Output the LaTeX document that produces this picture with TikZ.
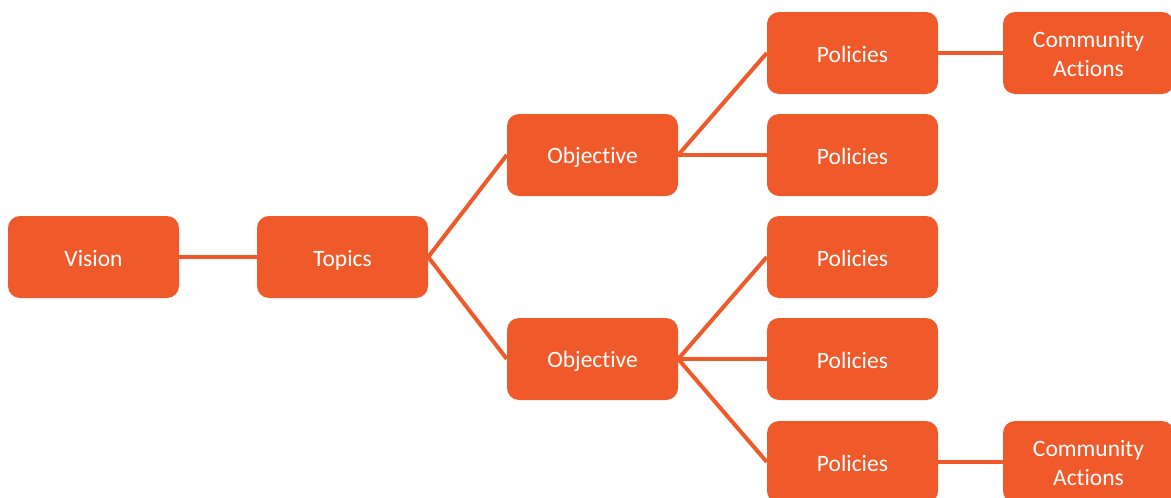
\documentclass[tikz,border=0pt]{standalone}
\usepackage{fontspec}
\setmainfont[Ligatures={NoCommon,NoContextual}]{Carlito}
\definecolor{boxorange}{HTML}{F0592A}
\newcommand{\bxstrut}{\rule[-4pt]{0pt}{26pt}}
\begin{document}
\begin{tikzpicture}[x=1pt,y=-1pt,
  box/.style={fill=boxorange, draw=none, rounded corners=12pt, minimum width=171pt, minimum height=82pt, text=white, font=\fontsize{23.5}{28.5}\selectfont, align=center, inner sep=0pt},
  link/.style={draw=boxorange, line width=4pt}]
\useasboundingbox (0,0) rectangle (1171,498);
\clip (0,0) rectangle (1171,498);
\node[box] (vision) at (93.5,257) {\bxstrut Vision};
\node[box] (topics) at (342.5,257) {\bxstrut Topics};
\node[box] (obj1) at (592.5,155) {\bxstrut Objective};
\node[box] (obj2) at (592.5,359) {\bxstrut Objective};
\node[box] (pol1) at (852.5,53) {\bxstrut Policies};
\node[box] (pol2) at (852.5,155) {\bxstrut Policies};
\node[box] (pol3) at (852.5,257) {\bxstrut Policies};
\node[box] (pol4) at (852.5,359) {\bxstrut Policies};
\node[box] (pol5) at (852.5,462) {\bxstrut Policies};
\node[box] (com1) at (1088.5,53) {\bxstrut Community\\\rule[-4pt]{0pt}{21pt}Actions};
\node[box] (com2) at (1088.5,462) {\bxstrut Community\\\rule[-4pt]{0pt}{21pt}Actions};
\draw[link] (vision.east) -- (topics.west);
\draw[link] (topics.east) -- (obj1.west);
\draw[link] (topics.east) -- (obj2.west);
\draw[link] (obj1.east) -- (pol1.west);
\draw[link] (obj1.east) -- (pol2.west);
\draw[link] (obj2.east) -- (pol3.west);
\draw[link] (obj2.east) -- (pol4.west);
\draw[link] (obj2.east) -- (pol5.west);
\draw[link] (pol1.east) -- (com1.west);
\draw[link] (pol5.east) -- (com2.west);
\end{tikzpicture}
\end{document}
